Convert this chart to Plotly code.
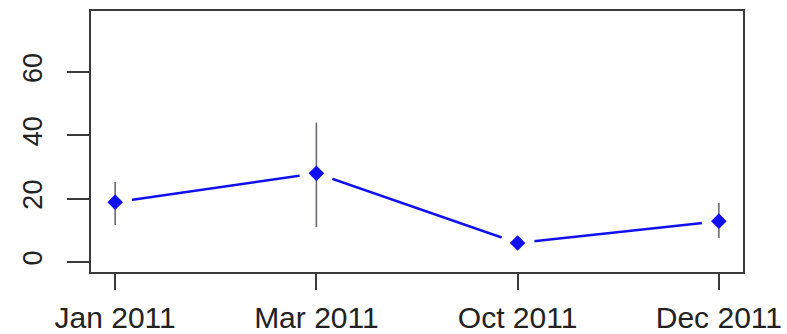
import plotly.graph_objects as go

# Survey months and measured means with interval bounds
months = ["Jan 2011", "Mar 2011", "Oct 2011", "Dec 2011"]
mean_value = [18.9, 28.0, 6.0, 12.9]
upper_bound = [25.3, 44.0, 7.5, 18.6]
lower_bound = [11.7, 11.0, 4.5, 7.6]
y_ticks = [0, 20, 40, 60]

x_pos = list(range(1, len(months) + 1))
err_plus = [u - m for u, m in zip(upper_bound, mean_value)]
err_minus = [m - l for m, l in zip(mean_value, lower_bound)]

BLUE = "#1010f0"
AXIS = "#3a3a3a"
FONT = "Liberation Sans, Arial, sans-serif"

fig = go.Figure()

# connecting line
fig.add_trace(go.Scatter(
    x=x_pos, y=mean_value, mode="lines",
    line=dict(color=BLUE, width=2.5), hoverinfo="skip", showlegend=False,
))
# white discs open a gap in the line around each point (type="b" style)
fig.add_trace(go.Scatter(
    x=x_pos, y=mean_value, mode="markers",
    marker=dict(symbol="circle", size=34, color="white", line=dict(width=0)),
    hoverinfo="skip", showlegend=False,
))
# interval whiskers
fig.add_trace(go.Scatter(
    x=x_pos, y=mean_value, mode="markers",
    marker=dict(size=1, opacity=0),
    error_y=dict(type="data", symmetric=False, array=err_plus, arrayminus=err_minus,
                 color="#6a6a78", thickness=1.6, width=0),
    hoverinfo="skip", showlegend=False,
))
# point markers
fig.add_trace(go.Scatter(
    x=x_pos, y=mean_value, mode="markers",
    marker=dict(symbol="diamond", size=12, color=BLUE, line=dict(width=0)),
    showlegend=False,
))

fig.update_layout(
    width=787, height=334,
    margin=dict(l=91, r=44, t=11, b=62),
    paper_bgcolor="white", plot_bgcolor="white",
    font=dict(family=FONT, color="#222222"),
)
fig.update_xaxes(
    range=[0.88, 4.12], tickvals=x_pos, ticktext=months,
    showgrid=False, zeroline=False, automargin=False,
    showline=True, mirror=True, linecolor=AXIS, linewidth=1.5,
    ticks="outside", ticklen=16, tickwidth=1.5, tickcolor=AXIS,
    tickfont=dict(size=30, family=FONT, color="#222222"),
    ticklabelstandoff=2,
)
fig.update_yaxes(
    range=[-3.16, 79.26], tickvals=y_ticks, ticktext=[str(v) for v in y_ticks],
    showgrid=False, zeroline=False, automargin=False,
    showline=True, mirror=True, linecolor=AXIS, linewidth=1.5,
    ticks="outside", ticklen=22, tickwidth=1.5, tickcolor=AXIS,
    tickangle=-90,
    tickfont=dict(size=27, family=FONT, color="#222222"),
    ticklabelstandoff=14,
)

fig.write_html("out.html")
